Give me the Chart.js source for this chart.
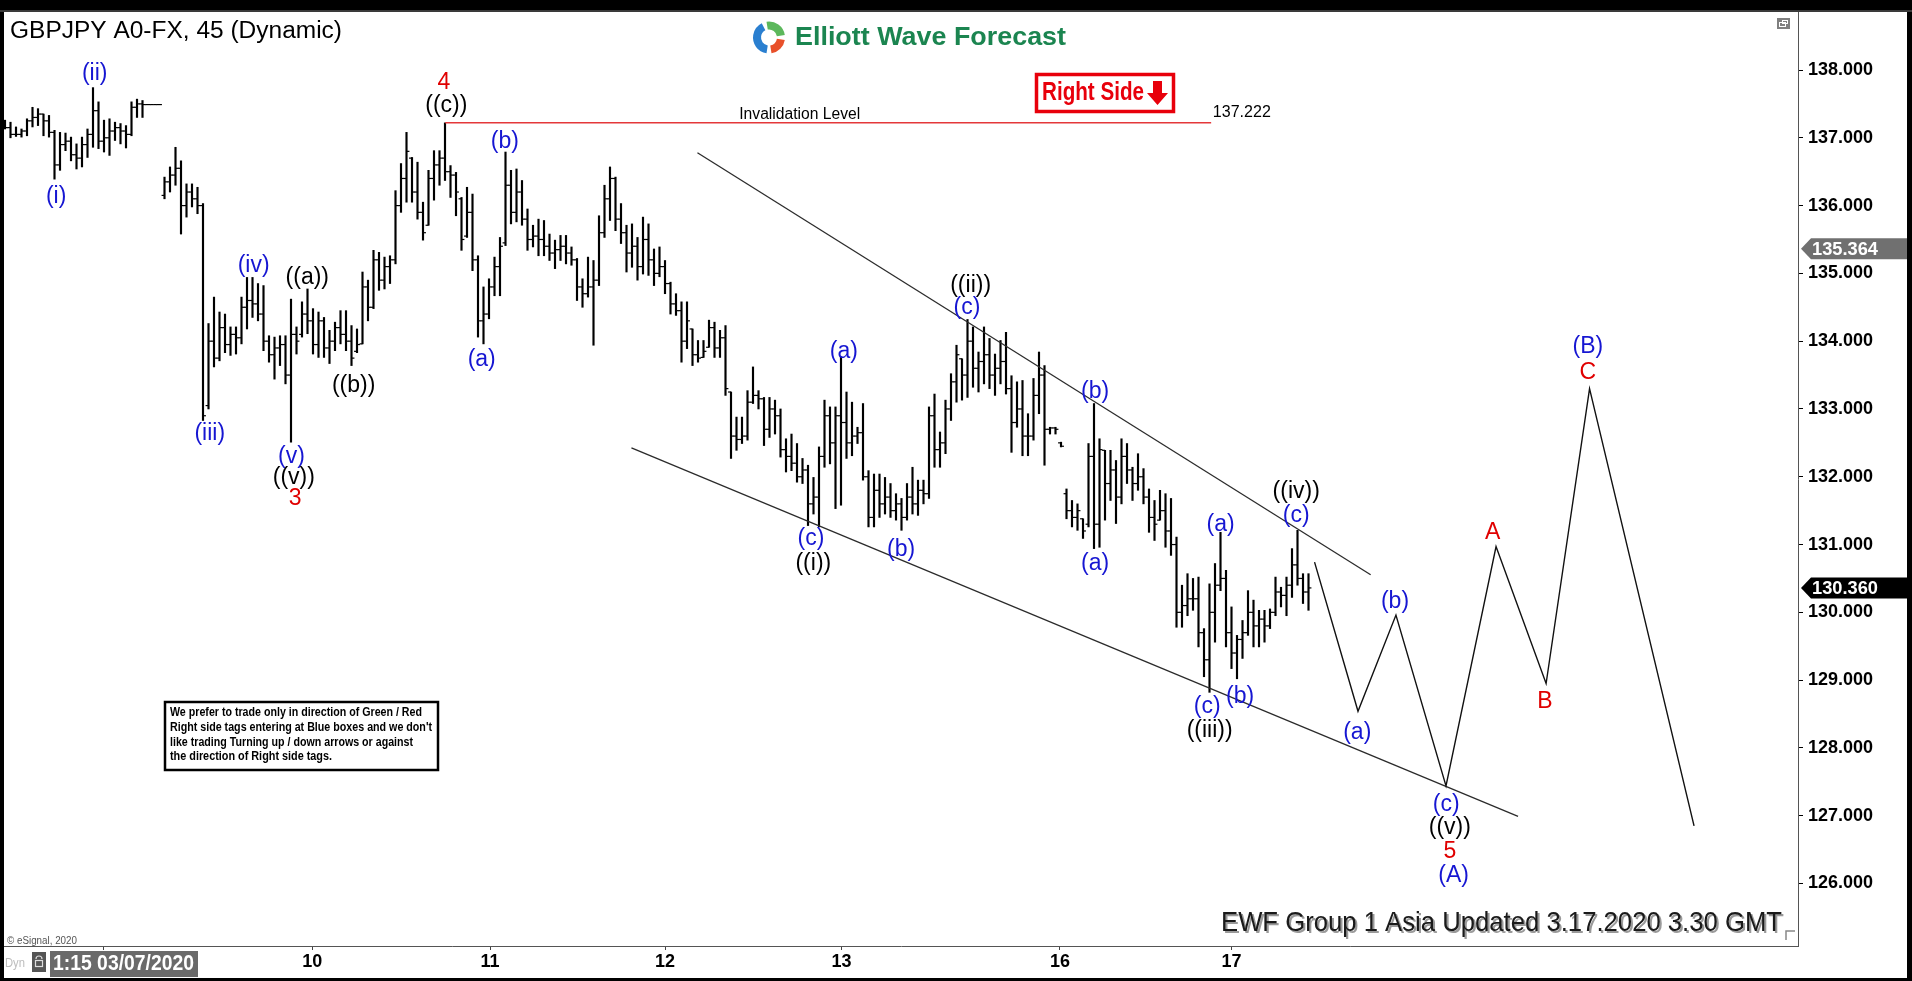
<!DOCTYPE html>
<html><head><meta charset="utf-8">
<script src="https://cdn.jsdelivr.net/npm/chart.js@4.4.1/dist/chart.umd.min.js"></script>
<style>html,body{margin:0;padding:0;background:#000;overflow:hidden}canvas{display:block}</style>
</head><body>
<canvas id="c" width="1912" height="981" style="width:1912px;height:981px"></canvas>
<script>
// ---------- DATA (45-min OHLC bars) ----------
const highs = [
137.26,137.23,137.16,137.13,137.28,137.45,137.43,137.35,137.33,137.11,
137.08,137.07,137.01,136.91,137.01,137.13,137.74,137.53,137.26,137.28,
137.23,137.21,137.18,137.53,137.57,137.55,137.49,137.49,137.49,
136.42,136.57,136.86,136.66,136.32,136.32,136.27,136.03,134.26,134.65,134.43,
134.40,134.21,134.21,134.65,134.94,134.94,134.85,134.82,134.08,134.06,
134.08,134.08,134.62,134.21,134.58,134.77,134.48,134.43,134.35,134.16,
134.28,134.45,134.45,134.23,134.18,135.02,134.90,135.34,135.31,135.24,
135.26,136.22,136.62,137.08,136.71,136.64,136.05,136.52,136.81,136.81,
137.22,136.59,136.49,136.12,136.27,136.17,135.26,134.80,134.92,135.24,
135.53,136.79,136.52,136.54,136.37,135.95,135.71,135.80,135.78,135.58,
135.49,135.56,135.56,135.39,135.22,134.92,135.24,135.19,135.85,136.30,
136.57,136.42,136.03,135.71,135.73,135.53,135.83,135.73,135.36,135.39,
135.19,134.87,134.70,134.58,134.58,134.18,134.01,134.01,134.31,134.28,
134.16,134.23,133.25,132.88,132.88,133.27,133.62,133.27,133.17,133.17,
133.13,133.00,132.56,132.63,132.49,132.27,132.17,131.99,132.44,133.13,
133.03,133.03,133.77,133.25,133.10,132.73,133.08,132.09,132.04,132.04,
131.99,131.90,131.75,131.68,131.90,132.14,131.95,131.95,133.03,133.22,
132.66,133.13,133.52,133.94,133.74,134.32,134.21,133.84,134.21,134.04,
133.81,134.01,134.13,133.49,133.40,133.42,132.93,133.45,133.84,133.64,
132.73,132.73,132.51,131.82,131.65,131.60,131.38,132.49,133.08,132.56,
132.39,132.39,132.24,132.56,132.49,132.14,132.34,132.12,131.82,131.65,
131.80,131.75,131.68,131.11,130.40,130.57,130.50,130.52,129.76,130.42,
130.72,131.18,130.62,130.08,129.66,129.88,130.32,130.18,130.03,130.03,
130.05,130.52,130.37,130.52,130.94,131.21,130.57,130.57];
const lows = [
137.13,137.00,137.02,137.01,137.03,137.16,137.18,137.03,137.01,136.39,
136.52,136.81,136.66,136.54,136.57,136.71,136.86,136.84,136.79,136.74,
136.96,136.91,136.85,137.03,137.30,137.30,137.49,137.49,137.49,
136.10,136.20,136.30,135.58,135.83,135.98,135.88,132.83,133.00,133.62,133.71,
133.83,133.79,133.81,133.96,134.18,134.35,134.30,133.86,133.69,133.44,
133.64,133.37,132.51,133.81,134.06,134.11,133.81,133.76,133.76,133.67,
133.86,133.96,133.86,133.64,133.83,133.96,134.30,134.48,134.75,134.77,
134.85,135.14,135.90,136.05,136.05,135.80,135.49,135.71,136.08,136.30,
136.37,136.12,135.85,135.34,135.53,135.04,134.06,133.96,134.33,134.67,
134.67,135.41,135.73,135.76,135.71,135.34,135.39,135.26,135.26,135.19,
135.07,135.19,135.14,135.12,134.60,134.50,134.65,133.94,134.82,135.53,
135.78,135.63,135.44,135.02,135.09,134.90,134.99,134.97,134.82,134.95,
134.70,134.40,134.38,133.69,133.89,133.64,133.69,133.76,133.91,133.76,
133.76,133.20,132.27,132.39,132.49,132.54,133.08,133.00,132.46,132.58,
132.63,132.29,132.07,132.09,131.92,131.90,131.28,131.45,131.26,132.14,
132.19,131.53,131.58,132.27,132.31,132.49,131.95,131.26,131.26,131.40,
131.45,131.40,131.36,131.21,131.36,131.45,131.43,131.60,131.68,132.14,
132.14,132.34,132.83,133.10,133.13,133.17,133.32,133.25,133.37,133.30,
133.20,133.37,133.22,132.36,132.73,132.31,132.31,132.54,132.93,132.17,
132.63,132.63,132.44,131.38,131.26,131.21,131.09,131.26,130.94,130.96,
131.36,131.65,131.31,131.60,131.90,131.65,131.80,131.60,131.18,131.06,
131.36,130.96,130.84,129.78,129.78,129.95,130.03,129.49,129.05,128.82,
129.56,130.32,129.49,129.17,129.02,129.32,129.66,129.49,129.49,129.56,
129.76,129.95,130.08,129.95,130.22,130.40,130.13,130.03];
const opens = [
137.20,137.15,137.05,137.05,137.10,137.25,137.30,137.35,137.25,137.08,
136.60,136.90,136.95,136.75,136.70,136.90,137.05,137.40,136.95,137.00,
137.10,137.15,137.10,137.05,137.45,137.50,137.49,137.49,137.49,
136.15,136.35,136.45,136.55,136.00,136.20,136.10,136.00,133.05,134.00,133.75,
134.20,133.95,134.10,134.05,134.50,134.60,134.55,134.40,134.00,133.80,
133.90,133.95,133.50,134.10,134.10,134.40,134.30,133.95,134.30,133.90,
134.00,134.20,134.10,134.00,133.85,133.96,134.80,134.50,135.20,134.90,
135.10,135.20,136.00,136.40,136.70,136.20,135.90,135.71,136.40,136.60,
136.70,136.50,136.45,136.10,135.55,135.90,135.20,134.30,134.40,134.80,
135.10,135.45,136.30,135.90,136.20,135.80,135.50,135.55,135.50,135.40,
135.30,135.35,135.40,135.30,135.20,134.80,134.70,134.80,134.90,135.60,
136.10,136.40,135.80,135.60,135.30,135.40,135.10,135.50,135.20,135.00,
135.10,134.85,134.55,134.45,134.00,134.18,133.80,133.76,133.91,134.20,
133.90,134.05,133.25,132.60,132.55,132.60,133.10,133.20,133.15,132.70,
133.00,132.90,132.40,132.30,132.20,132.00,132.10,131.60,131.70,132.30,
132.90,132.50,132.90,132.80,132.50,132.60,132.65,132.00,131.40,131.80,
131.60,131.70,131.50,131.60,131.40,131.70,131.60,131.80,131.75,132.90,
132.40,132.50,133.00,133.40,133.74,133.50,134.00,133.60,133.70,133.80,
133.50,133.60,133.70,133.30,132.80,133.00,132.60,132.60,133.20,133.50,
132.70,132.72,132.50,131.75,131.50,131.40,131.38,131.30,132.30,131.30,
132.39,131.90,132.10,131.70,132.30,132.10,131.90,132.00,131.70,131.40,
131.36,131.50,131.20,131.00,130.00,130.10,130.20,130.20,129.70,129.30,
130.00,130.40,130.50,129.70,129.40,129.60,129.70,130.00,129.80,129.90,
129.80,130.00,130.30,130.25,130.40,130.70,130.50,130.30];
const closes = [
137.15,137.05,137.05,137.10,137.25,137.30,137.35,137.25,137.08,136.60,
136.90,136.95,136.75,136.70,136.90,137.05,137.40,136.95,137.00,137.10,
137.15,137.10,137.05,137.45,137.50,137.49,137.49,137.49,137.49,
136.35,136.45,136.55,136.00,136.20,136.10,136.00,132.90,134.00,133.75,134.20,
133.95,134.10,134.05,134.50,134.60,134.55,134.40,134.00,133.80,133.90,
133.95,133.50,134.10,134.00,134.40,134.30,133.95,134.30,133.90,134.00,
134.20,134.10,134.00,133.75,133.95,134.80,134.50,135.20,134.90,135.10,
135.20,136.00,136.40,136.80,136.20,135.90,135.60,136.40,136.60,136.70,
136.50,136.45,136.20,135.50,135.90,135.20,134.30,134.40,134.80,135.10,
135.40,136.30,135.90,136.20,135.80,135.50,135.55,135.50,135.40,135.30,
135.35,135.40,135.30,135.20,134.80,134.70,134.80,134.90,135.60,136.10,
136.40,135.80,135.60,135.30,135.40,135.10,135.50,135.20,135.00,135.10,
134.85,134.55,134.45,134.00,134.30,133.80,133.75,133.85,134.20,133.90,
134.05,133.30,132.60,132.55,132.60,133.10,133.20,133.15,132.70,133.00,
132.90,132.40,132.30,132.20,132.00,132.10,131.60,131.70,132.30,132.90,
132.50,132.90,132.80,132.50,132.60,132.65,132.00,131.40,131.80,131.60,
131.70,131.50,131.60,131.40,131.70,131.60,131.80,131.75,132.90,132.40,
132.50,133.00,133.40,133.80,133.50,134.00,133.60,133.70,133.80,133.50,
133.60,133.70,133.30,132.80,133.00,132.60,132.60,133.20,133.50,132.70,
132.72,132.70,132.45,131.50,131.40,131.50,131.20,132.30,131.30,132.40,
131.90,132.10,131.70,132.30,132.10,131.90,132.00,131.70,131.40,131.30,
131.50,131.20,131.00,130.00,130.10,130.20,130.20,129.70,129.30,130.00,
130.40,130.50,129.70,129.40,129.60,129.70,130.00,129.80,129.90,129.80,
130.00,130.30,130.25,130.40,130.70,130.50,130.30,130.36];

// day ticks (bar-index positions) and their labels
const dayTickPos = [17.9, 55.85, 88.2, 120.0, 152.1, 191.8, 223.0];
const dayTickLabels = ['9','10','11','12','13','16','17'];
// price axis ticks
const priceTicks = [126,127,128,129,130,131,132,133,134,135,136,137,138];
const lastPrice = 130.360;
const markPrice = 135.364;
// invalidation level
const invalidationLevel = 137.222;
const invalidationFrom = 80.05, invalidationTo = 219.3;
// channel lines [index, price]
const upperChannelX = [125.9, 248.3], upperChannelY = [136.78, 130.555];
const lowerChannelX = [113.9, 275.1], lowerChannelY = [132.425, 126.99];
// projected path
const projX = [238.1, 246.0, 252.9, 262.0, 271.1, 280.2, 288.1, 307.1];
const projY = [130.74, 128.54, 129.96, 127.44, 130.97, 128.95, 133.30, 126.85];
// wave labels
const waveText = ['(ii)','(i)','(iii)','(iv)','((a))','((b))','(v)','((v))','3','4','((c))','(b)','(a)',
 '(a)','(c)','((i))','(b)','((ii))','(c)','(b)','(a)','(a)','(c)','(b)','((iii))','((iv))','(c)',
 '(b)','(a)','(c)','((v))','5','(A)','A','B','(B)','C'];
const waveX = [16.3,9.29,37.23,45.2,54.96,63.39,52.08,52.52,52.74,79.79,80.24,90.88,86.67,
 152.52,146.53,146.97,162.93,175.57,174.91,198.19,198.19,221.02,218.58,224.57,219.03,234.77,234.77,
 252.73,245.86,262.05,262.7,262.7,263.4,270.5,280.0,287.8,287.8];
const waveY = [137.95,136.13,132.64,135.12,134.94,133.34,132.30,131.99,131.67,137.82,137.48,136.94,133.72,
 133.85,131.08,130.72,130.93,134.82,134.49,133.25,130.72,131.29,128.61,128.76,128.25,131.78,131.43,
 130.16,128.23,127.16,126.83,126.47,126.11,131.18,128.68,133.92,133.54];
const waveColor = 'bbbbkkbkrrkbbbbkbkbbbbbbkkbbbbkrbrrbr';

// ---------- build datasets ----------
const rangeData = [], openData = [], closeData = [];
for (let i = 0; i < highs.length; i++) {
  rangeData.push({x: i, y: [lows[i], highs[i]]});
  openData.push({x: i - 0.26, y: opens[i]});
  closeData.push({x: i + 0.26, y: closes[i]});
}
const pts = (xs, ys) => xs.map((v, k) => ({x: v, y: ys[k]}));

const COLORS = {b: '#1616d2', k: '#000000', r: '#e00000'};
const SANS = '"Liberation Sans", Arial, Helvetica, sans-serif';

function fitText(ctx, text, x, y, w, font, color, align) {
  ctx.save();
  ctx.font = font;
  const m = ctx.measureText(text).width;
  const sx = w / m;
  ctx.translate(x, y);
  ctx.scale(sx, 1);
  ctx.textAlign = 'left';
  ctx.textBaseline = 'middle';
  ctx.fillStyle = color;
  const ox = align === 'right' ? -m : (align === 'center' ? -m / 2 : 0);
  ctx.fillText(text, ox, 0);
  ctx.restore();
}

const decor = {
  id: 'decor',
  beforeDraw(chart) {
    const ctx = chart.ctx;
    ctx.save();
    ctx.fillStyle = '#000';
    ctx.fillRect(0, 0, 1912, 981);
    ctx.fillStyle = '#fff';
    ctx.fillRect(4, 12, 1903, 966);
    ctx.fillStyle = '#3a3a3a';
    ctx.fillRect(0, 10, 1912, 2);
    ctx.restore();
  },
  afterDatasetsDraw(chart) {
    const {ctx, scales: {x, y}} = chart;
    ctx.save();
    ctx.font = '23px ' + SANS;
    ctx.textAlign = 'center';
    ctx.textBaseline = 'middle';
    for (let k = 0; k < waveText.length; k++) {
      ctx.fillStyle = COLORS[waveColor[k]];
      ctx.fillText(waveText[k], x.getPixelForValue(waveX[k]), y.getPixelForValue(waveY[k]));
    }
    const ly = y.getPixelForValue(invalidationLevel);
    fitText(ctx, 'Invalidation Level', x.getPixelForValue(133.5), ly - 8, 121, '16px ' + SANS, '#000');
    fitText(ctx, invalidationLevel.toFixed(3), x.getPixelForValue(219.6), ly - 10, 58, '16px ' + SANS, '#000');
    ctx.restore();
  },
  afterDraw(chart) {
    const {ctx, scales: {y}} = chart;
    ctx.save();
    fitText(ctx, 'GBPJPY A0-FX, 45 (Dynamic)', 10, 31.5, 332, '23px ' + SANS, '#000');
    const cx = 769, cy = 37.5, r = 12;
    ctx.lineWidth = 8;
    const arc = (a0, a1, col) => { ctx.beginPath(); ctx.strokeStyle = col; ctx.arc(cx, cy, r, a0, a1); ctx.stroke(); };
    arc(Math.PI * 0.55, Math.PI * 1.35, '#2a7fd0');
    arc(Math.PI * 1.45, Math.PI * 1.95, '#5cb85c');
    arc(Math.PI * 0.05, Math.PI * 0.45, '#e8502a');
    fitText(ctx, 'Elliott Wave Forecast', 795, 38, 271, 'bold 26px ' + SANS, '#1b8550');
    ctx.strokeStyle = '#e8000b';
    ctx.lineWidth = 3.5;
    ctx.strokeRect(1036.5, 74.5, 137, 37);
    fitText(ctx, 'Right Side', 1042, 93, 102, 'bold 25px ' + SANS, '#e8000b');
    ctx.fillStyle = '#e8000b';
    ctx.beginPath();
    ctx.moveTo(1153, 81); ctx.lineTo(1162, 81); ctx.lineTo(1162, 93); ctx.lineTo(1168, 93);
    ctx.lineTo(1157.5, 105); ctx.lineTo(1147, 93); ctx.lineTo(1153, 93); ctx.closePath(); ctx.fill();
    ctx.strokeStyle = '#000'; ctx.lineWidth = 2.5;
    ctx.strokeRect(165, 702, 273, 68);
    const nf = 'bold 12px ' + SANS;
    fitText(ctx, 'We prefer to trade only in direction of Green / Red', 170, 713, 252, nf, '#000');
    fitText(ctx, "Right side tags entering at Blue boxes and we don't", 170, 728, 262, nf, '#000');
    fitText(ctx, 'like trading Turning up / down arrows or against', 170, 742.5, 243, nf, '#000');
    fitText(ctx, 'the direction of Right side tags.', 170, 757, 162, nf, '#000');
    fitText(ctx, 'EWF Group 1 Asia Updated 3.17.2020 3.30 GMT', 1223, 925, 561, '28px ' + SANS, '#9a9a9a');
    fitText(ctx, 'EWF Group 1 Asia Updated 3.17.2020 3.30 GMT', 1221, 923, 561, '28px ' + SANS, '#1a1a1a');
    const box = (val, col) => {
      const py = y.getPixelForValue(val);
      ctx.fillStyle = col;
      ctx.beginPath();
      ctx.moveTo(1801, py); ctx.lineTo(1811, py - 10.5); ctx.lineTo(1907, py - 10.5);
      ctx.lineTo(1907, py + 10.5); ctx.lineTo(1811, py + 10.5); ctx.closePath(); ctx.fill();
      fitText(ctx, val.toFixed(3), 1812, py + 1, 66, 'bold 18px ' + SANS, '#fff');
    };
    box(markPrice, '#707070');
    box(lastPrice, '#000');
    ctx.fillStyle = '#808080'; ctx.fillRect(1777, 18, 13, 11);
    ctx.strokeStyle = '#fff'; ctx.lineWidth = 1;
    ctx.strokeRect(1779.5, 22.5, 6, 4); ctx.strokeRect(1782.5, 20.5, 5, 3);
    ctx.strokeStyle = '#888'; ctx.lineWidth = 1.5;
    ctx.beginPath(); ctx.moveTo(1786, 940); ctx.lineTo(1786, 931); ctx.lineTo(1795, 931); ctx.stroke();
    fitText(ctx, '\u00A9 eSignal, 2020', 7, 941, 70, '10px ' + SANS, '#555');
    ctx.fillStyle = '#6a6a6a'; ctx.fillRect(50, 951, 148, 26);
    fitText(ctx, '1:15 03/07/2020', 53, 964, 141, 'bold 22px ' + SANS, '#fff');
    fitText(ctx, 'Dyn', 5, 963, 20, '13px ' + SANS, '#bdbdbd');
    ctx.fillStyle = '#555'; ctx.fillRect(32, 952, 14, 20);
    ctx.strokeStyle = '#ddd'; ctx.lineWidth = 1.2;
    ctx.beginPath(); ctx.arc(39, 959, 3, Math.PI, 0); ctx.stroke();
    ctx.strokeRect(35.5, 960.5, 7, 6);
    ctx.restore();
  }
};

const chart = new Chart(document.getElementById('c'), {
  type: 'bar',
  data: {
    datasets: [
      {type: 'bar', data: rangeData, backgroundColor: '#000', barThickness: 1.5, borderWidth: 0, order: 5},
      {type: 'scatter', data: openData, pointStyle: 'line', pointRadius: 1.5, pointHoverRadius: 1.5,
       borderColor: '#000', borderWidth: 1.2, order: 4},
      {type: 'scatter', data: closeData, pointStyle: 'line', pointRadius: 1.5, pointHoverRadius: 1.5,
       borderColor: '#000', borderWidth: 1.2, order: 4},
      {type: 'line', data: pts(upperChannelX, upperChannelY), borderColor: '#2b2b2b', borderWidth: 1.3,
       pointRadius: 0, fill: false, tension: 0, order: 3},
      {type: 'line', data: pts(lowerChannelX, lowerChannelY), borderColor: '#2b2b2b', borderWidth: 1.3,
       pointRadius: 0, fill: false, tension: 0, order: 3},
      {type: 'line', data: pts([invalidationFrom, invalidationTo], [invalidationLevel, invalidationLevel]),
       borderColor: '#e4383a', borderWidth: 1.5, pointRadius: 0, fill: false, order: 2},
      {type: 'line', data: pts(projX, projY), borderColor: '#111', borderWidth: 1.4,
       pointRadius: 0, fill: false, tension: 0, order: 1}
    ]
  },
  options: {
    responsive: false,
    animation: false,
    devicePixelRatio: 1,
    events: [],
    layout: {padding: {left: 4, top: 12, right: 5, bottom: 3}},
    plugins: {legend: {display: false}, tooltip: {enabled: false}},
    scales: {
      x: {
        type: 'linear', position: 'bottom', min: -0.18, max: 326.0, offset: false,
        grid: {offset: false, drawOnChartArea: false, drawTicks: true, tickLength: 4, color: '#444'},
        border: {display: true, color: '#555', width: 1},
        ticks: {autoSkip: false, maxRotation: 0, padding: 1, color: '#000',
                font: {family: SANS, size: 18, weight: 'bold'},
                callback: (v, idx) => dayTickLabels[idx]},
        afterBuildTicks: s => { s.ticks = dayTickPos.map(v => ({value: v})); },
        afterFit: s => { s.height = 32; s.paddingLeft = 0; s.paddingRight = 0; }
      },
      y: {
        type: 'linear', position: 'right', min: 125.07, max: 138.85,
        grid: {offset: false, drawOnChartArea: false, drawTicks: true, tickLength: 5, color: '#000'},
        border: {display: true, color: '#555', width: 1},
        ticks: {padding: 5, color: '#000', font: {family: SANS, size: 18, weight: 'bold'},
                callback: v => Number(v).toFixed(3)},
        afterBuildTicks: s => { s.ticks = priceTicks.map(v => ({value: v})); },
        afterFit: s => { s.width = 109; s.paddingTop = 0; s.paddingBottom = 0; }
      }
    }
  },
  plugins: [decor]
});

// align the value ranges with the real plot area (138 at y=70, 126 at y=883.5; bar spacing 5.5px from x=5)
const ca = chart.chartArea;
const pxPerUnit = (883.5 - 70) / 12;
chart.options.scales.y.max = 138 + (70 - ca.top) / pxPerUnit;
chart.options.scales.y.min = 126 - (ca.bottom - 883.5) / pxPerUnit;
chart.options.scales.x.min = (ca.left - 5) / 5.5;
chart.options.scales.x.max = chart.options.scales.x.min + (ca.right - ca.left) / 5.5;
chart.update();
</script>
</body></html>
